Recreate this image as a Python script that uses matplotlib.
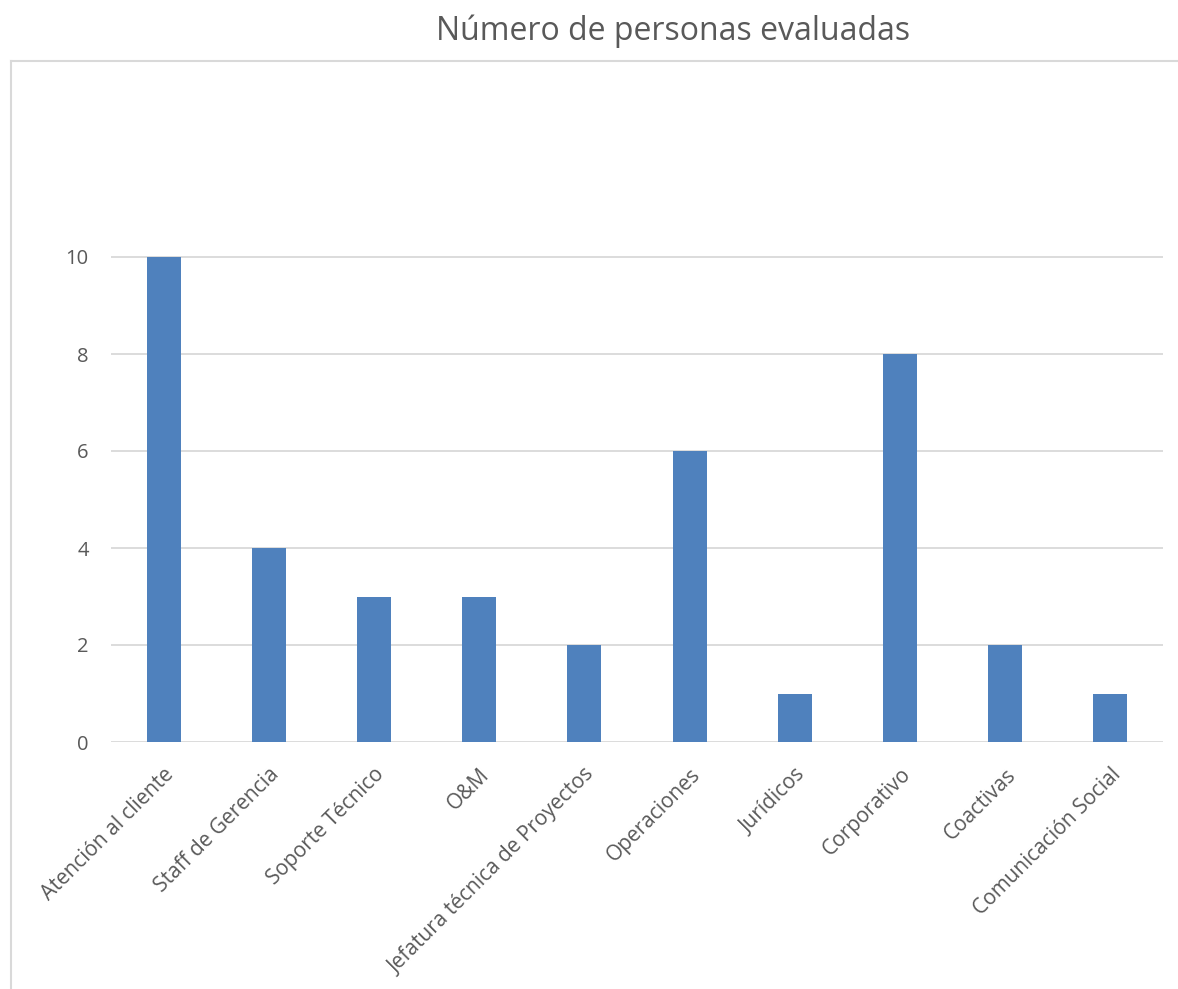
import matplotlib as ml
ml.use('Agg')
import matplotlib.pyplot as plt
from matplotlib.lines import Line2D
import numpy as np

# data
areas = ['Atención al cliente', 'Staff de Gerencia', 'Soporte Técnico', 'O&M',
         'Jefatura técnica de Proyectos', 'Operaciones', 'Jurídicos',
         'Corporativo', 'Coactivas', 'Comunicación Social']
personas = [10, 4, 3, 3, 2, 6, 1, 8, 2, 1]
yticks = [0, 2, 4, 6, 8, 10]
titulo = 'Número de personas evaluadas'

W, H = 1178, 989
txt = '#595959'
grid = '#D9D9D9'

plt.rcParams['font.family'] = ['Open Sans', 'DejaVu Sans']

fig = plt.figure(figsize=(W / 100, H / 100), dpi=100)
# plot area in pixels: x 111..1163, y0 at 742, 10 at 257
px_per = (742 - 257) / 10.0
top_px = 742 - 12 * px_per
ax = fig.add_axes([111 / W, 1 - 742 / H, (1163 - 111) / W, (742 - top_px) / H])

x = np.arange(len(areas))
ax.bar(x, personas, width=0.323, color='#4F81BD', zorder=3)
ax.set_xlim(-0.5, len(areas) - 0.5)
ax.set_ylim(0, 12)

for v in yticks:
    ax.axhline(v, color=grid, lw=1.3, zorder=1)

ax.set_yticks(yticks)
ax.set_yticklabels([str(v) for v in yticks], fontsize=14.5, color=txt)
ax.tick_params(axis='y', length=0, pad=16)
ax.set_xticks(x)
ax.set_xticklabels(areas, rotation=45, ha='right', rotation_mode='anchor',
                   fontsize=15, color=txt)
ax.tick_params(axis='x', length=0, pad=16)
for s in ax.spines.values():
    s.set_visible(False)

# chart frame (only left and top visible in the crop)
fig.add_artist(Line2D([11 / W, 11 / W], [0, 1 - 61 / H], color=grid, lw=1.5,
                      transform=fig.transFigure))
fig.add_artist(Line2D([11 / W, 1], [1 - 61 / H, 1 - 61 / H], color=grid, lw=1.5,
                      transform=fig.transFigure))

fig.text(673 / W, 1 - 31 / H, titulo, ha='center', va='center',
         fontsize=23, color=txt)

fig.savefig('out.png', dpi=100)
